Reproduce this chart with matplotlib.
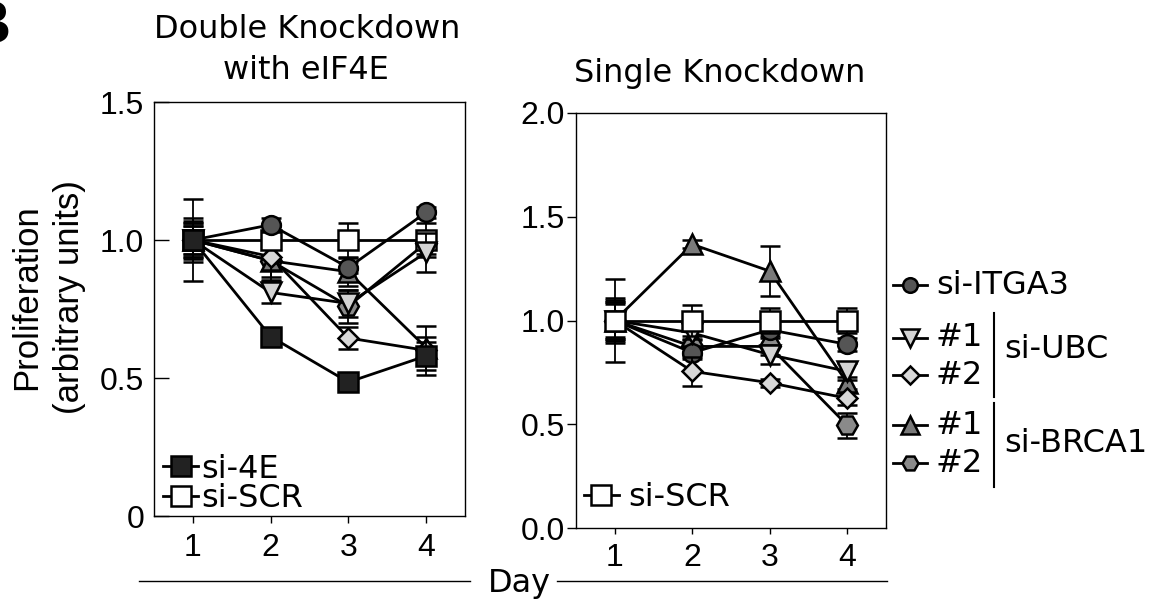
import matplotlib
matplotlib.use('Agg')
import matplotlib.pyplot as plt
from matplotlib.lines import Line2D

plt.rcParams['font.family'] = 'DejaVu Sans'
plt.rcParams['axes.linewidth'] = 1.0

W, H = 1173, 604
days = [1, 2, 3, 4]

# double knockdown with eIF4E (left panel)
dk_scr = [1.0, 1.0, 1.0, 1.0]
dk_scr_err = [0.06, 0.03, 0.06, 0.06]
dk_4e = [1.0, 0.65, 0.485, 0.58]
dk_4e_err = [0.15, 0.02, 0.01, 0.07]
dk_itga3 = [1.0, 1.055, 0.90, 1.10]
dk_itga3_err = [0.05, 0.025, 0.02, 0.02]
dk_ubc1 = [1.0, 0.81, 0.77, 0.955]
dk_ubc1_err = [0.07, 0.04, 0.05, 0.07]
dk_ubc2 = [1.0, 0.94, 0.645, 0.60]
dk_ubc2_err = [0.08, 0.05, 0.04, 0.03]
dk_brca1_1 = [1.0, 0.925, 0.885, 0.61]
dk_brca1_1_err = [0.06, 0.06, 0.05, 0.08]
dk_brca1_2 = [1.0, 0.925, 0.76, 0.99]
dk_brca1_2_err = [0.05, 0.07, 0.06, 0.04]

# single knockdown (right panel)
sk_scr = [1.0, 1.0, 1.0, 1.0]
sk_scr_err = [0.1, 0.075, 0.06, 0.06]
sk_itga3 = [1.0, 0.845, 0.955, 0.885]
sk_itga3_err = [0.09, 0.03, 0.03, 0.03]
sk_ubc1 = [1.0, 0.94, 0.835, 0.755]
sk_ubc1_err = [0.08, 0.03, 0.045, 0.04]
sk_ubc2 = [1.0, 0.755, 0.70, 0.625]
sk_ubc2_err = [0.11, 0.07, 0.02, 0.03]
sk_brca1_1 = [1.0, 1.367, 1.238, 0.70]
sk_brca1_1_err = [0.2, 0.02, 0.12, 0.03]
sk_brca1_2 = [1.0, 0.875, 0.875, 0.495]
sk_brca1_2_err = [0.09, 0.03, 0.04, 0.06]

# marker, face colour, size
styles = {
    'scr': ('s', 'white', 14),
    '4e': ('s', '#222222', 14),
    'itga3': ('o', '#555555', 13.5),
    'ubc1': ('v', '#d3d3d3', 15),
    'ubc2': ('D', '#d8d8d8', 10),
    'brca1_1': ('^', '#7a7a7a', 15),
    'brca1_2': ('H', '#8a8a8a', 15),
}


def series(ax, y, err, key, z):
    m, fc, ms = styles[key]
    ax.errorbar(days, y, yerr=err, color='black', lw=2.0, marker=m, ms=ms,
                mfc=fc, mec='black', mew=1.8, elinewidth=1.3, capsize=7,
                capthick=1.3, ecolor='black', zorder=z)


fig = plt.figure(figsize=(W / 100, H / 100), dpi=100)

ax1 = fig.add_axes([154 / W, 1 - 516 / H, 311 / W, 414 / H])
series(ax1, dk_brca1_2, dk_brca1_2_err, 'brca1_2', 3)
series(ax1, dk_brca1_1, dk_brca1_1_err, 'brca1_1', 4)
series(ax1, dk_ubc2, dk_ubc2_err, 'ubc2', 5)
series(ax1, dk_scr, dk_scr_err, 'scr', 6)
series(ax1, dk_ubc1, dk_ubc1_err, 'ubc1', 7)
series(ax1, dk_itga3, dk_itga3_err, 'itga3', 8)
series(ax1, dk_4e, dk_4e_err, '4e', 9)
ax1.set_xlim(0.5, 4.5)
ax1.set_ylim(0, 1.5)
ax1.set_xticks(days)
ax1.set_yticks([0, 0.5, 1.0, 1.5], ['0', '0.5', '1.0', '1.5'])
ax1.tick_params(axis='y', direction='in', length=11, width=1, pad=7,
                labelsize=23, labelfontfamily='Liberation Sans')
ax1.tick_params(axis='x', direction='out', length=5, width=1, pad=7,
                labelsize=23, labelfontfamily='Liberation Sans')
h4e = Line2D([], [], color='black', lw=2.0, marker='s', ms=14, mfc='#222222', mec='black', mew=1.8)
hscr = Line2D([], [], color='black', lw=2.0, marker='s', ms=14, mfc='white', mec='black', mew=1.8)
ax1.legend([h4e, hscr], ['si-4E', 'si-SCR'], loc='lower left',
           bbox_to_anchor=(0.03, 0.005), frameon=False,
           fontsize=23, handlelength=1.1, handletextpad=0.1, labelspacing=-0.05,
           borderpad=0, borderaxespad=0)

ax2 = fig.add_axes([576 / W, 1 - 528 / H, 310 / W, 415 / H])
series(ax2, sk_brca1_2, sk_brca1_2_err, 'brca1_2', 3)
series(ax2, sk_brca1_1, sk_brca1_1_err, 'brca1_1', 4)
series(ax2, sk_itga3, sk_itga3_err, 'itga3', 5)
series(ax2, sk_ubc1, sk_ubc1_err, 'ubc1', 6)
series(ax2, sk_ubc2, sk_ubc2_err, 'ubc2', 7)
series(ax2, sk_scr, sk_scr_err, 'scr', 8)
ax2.set_xlim(0.5, 4.5)
ax2.set_ylim(0, 2.0)
ax2.set_xticks(days)
ax2.set_yticks([0, 0.5, 1.0, 1.5, 2.0], ['0.0', '0.5', '1.0', '1.5', '2.0'])
ax2.tick_params(axis='y', direction='out', length=6.5, width=1, pad=1.5,
                labelsize=23, labelfontfamily='Liberation Sans')
ax2.tick_params(axis='x', direction='out', length=4, width=1, pad=7,
                labelsize=23, labelfontfamily='Liberation Sans')
ax2.legend([hscr], ['si-SCR'], loc='lower left',
           bbox_to_anchor=(0.025, 0.035), frameon=False,
           fontsize=23, handlelength=1.1, handletextpad=0.3,
           borderpad=0, borderaxespad=0)

# overlay in pixel coordinates for titles, legend groups and the shared axis label
ov = fig.add_axes([0, 0, 1, 1])
ov.set_xlim(0, W)
ov.set_ylim(H, 0)
ov.axis('off')

ov.text(11, 43, 'B', ha='right', va='baseline', fontsize=44, fontweight='bold',
        family='Liberation Sans')
ov.text(307, 38, 'Double Knockdown', ha='center', va='baseline', fontsize=23)
ov.text(306, 79, 'with eIF4E', ha='center', va='baseline', fontsize=23)
ov.text(720, 82, 'Single Knockdown', ha='center', va='baseline', fontsize=23)
ov.text(48, 297, 'Proliferation\n(arbitrary units)', rotation=90, ha='center',
        va='center', multialignment='center', fontsize=25,
        family='Liberation Sans', linespacing=1.35)

ov.plot([139, 470], [581, 581], color='black', lw=1)
ov.plot([557, 887], [581, 581], color='black', lw=1)
ov.text(519, 592, 'Day', ha='center', va='baseline', fontsize=23)

# grouped legend on the right
leg_rows = [
    (285, 'itga3', 'si-ITGA3', 10.5),
    (338, 'ubc1', '#1', 12.5),
    (375, 'ubc2', '#2', 9.5),
    (425, 'brca1_1', '#1', 12.5),
    (463, 'brca1_2', '#2', 11.5),
]
for y, key, label, ms in leg_rows:
    m, fc, _ = styles[key]
    ov.plot([893, 927], [y, y], color='black', lw=2.0)
    ov.plot([910], [y], marker=m, ms=ms, mfc=fc, mec='black', mew=1.8)
    ov.text(936, y, label, ha='left', va='center', fontsize=23)
ov.plot([994, 994], [313, 397], color='black', lw=1.5)
ov.plot([994, 994], [403, 487], color='black', lw=1.5)
ov.text(1004, 350, 'si-UBC', ha='left', va='center', fontsize=23)
ov.text(1004, 443, 'si-BRCA1', ha='left', va='center', fontsize=23)

plt.savefig('out.png', dpi=100)
